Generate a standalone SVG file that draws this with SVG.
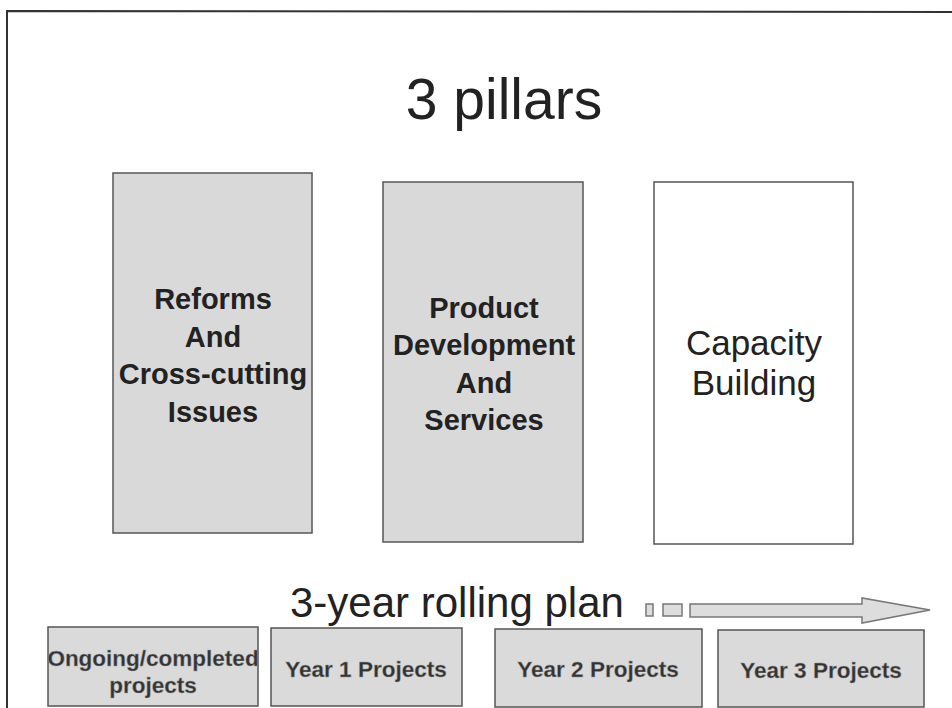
<svg xmlns="http://www.w3.org/2000/svg" width="952" height="708" viewBox="0 0 952 708">
<style>
.frame{fill:none;stroke:#333;stroke-width:2}
.pillar{fill:#d9d9d9;stroke:#555;stroke-width:1.5}
.pillarw{fill:#fff;stroke:#555;stroke-width:1.5}
.yr{fill:#dadada;stroke:#555;stroke-width:1.5}
.tb{font-family:"Liberation Sans",Arial,sans-serif;font-weight:bold;font-size:29px;fill:#222;text-anchor:middle}
.tn{font-family:"Liberation Sans",Arial,sans-serif;font-size:35px;fill:#222;text-anchor:middle}
.ty{font-family:"Liberation Sans",Arial,sans-serif;font-weight:bold;font-size:22.5px;fill:#333;text-anchor:middle;stroke:#999;stroke-width:0.4}
.title{font-family:"Liberation Sans",Arial,sans-serif;font-size:57px;fill:#222;text-anchor:middle}
.sub{font-family:"Liberation Sans",Arial,sans-serif;font-size:42px;fill:#222}
.arr{fill:#ddd;stroke:#777;stroke-width:1.5}
</style>
<rect width="952" height="708" fill="#fff"/>
<path class="frame" d="M7,708 L7,11 L952,12"/>
<text class="title" x="504" y="119">3 pillars</text>
<g id="pillar-reforms">
<rect class="pillar" x="113" y="173" width="199" height="360"/>
<text class="tb" x="213" y="309">Reforms</text>
<text class="tb" x="213" y="347">And</text>
<text class="tb" x="213" y="384">Cross-cutting</text>
<text class="tb" x="213" y="422">Issues</text>
</g>
<g id="pillar-product">
<rect class="pillar" x="383" y="182" width="200" height="360"/>
<text class="tb" x="484" y="318">Product</text>
<text class="tb" x="484" y="355">Development</text>
<text class="tb" x="484" y="393">And</text>
<text class="tb" x="484" y="430">Services</text>
</g>
<g id="pillar-capacity">
<rect class="pillarw" x="654" y="182" width="199" height="362"/>
<text class="tn" x="754" y="355">Capacity</text>
<text class="tn" x="754" y="395">Building</text>
</g>
<g id="plan-label">
<text class="sub" x="290" y="617">3-year rolling plan</text>
</g>
<g id="connectors">
<rect class="arr" x="646" y="604" width="7" height="12"/>
<rect class="arr" x="663" y="604" width="19" height="12"/>
<path class="arr" d="M690,604 L862,604 L862,598 L930,610 L862,623 L862,617 L690,617 Z"/>
</g>
<g id="ongoing">
<rect class="yr" x="48" y="627" width="210" height="79"/>
<text class="ty" x="153" y="666">Ongoing/completed</text>
<text class="ty" x="153" y="693">projects</text>
</g>
<g id="year1">
<rect class="yr" x="271" y="628" width="191" height="78"/>
<text class="ty" x="366" y="677">Year 1 Projects</text>
</g>
<g id="year2">
<rect class="yr" x="495" y="629" width="207" height="78"/>
<text class="ty" x="598" y="677">Year 2 Projects</text>
</g>
<g id="year3">
<rect class="yr" x="718" y="630" width="206" height="77"/>
<text class="ty" x="821" y="678">Year 3 Projects</text>
</g>
</svg>
